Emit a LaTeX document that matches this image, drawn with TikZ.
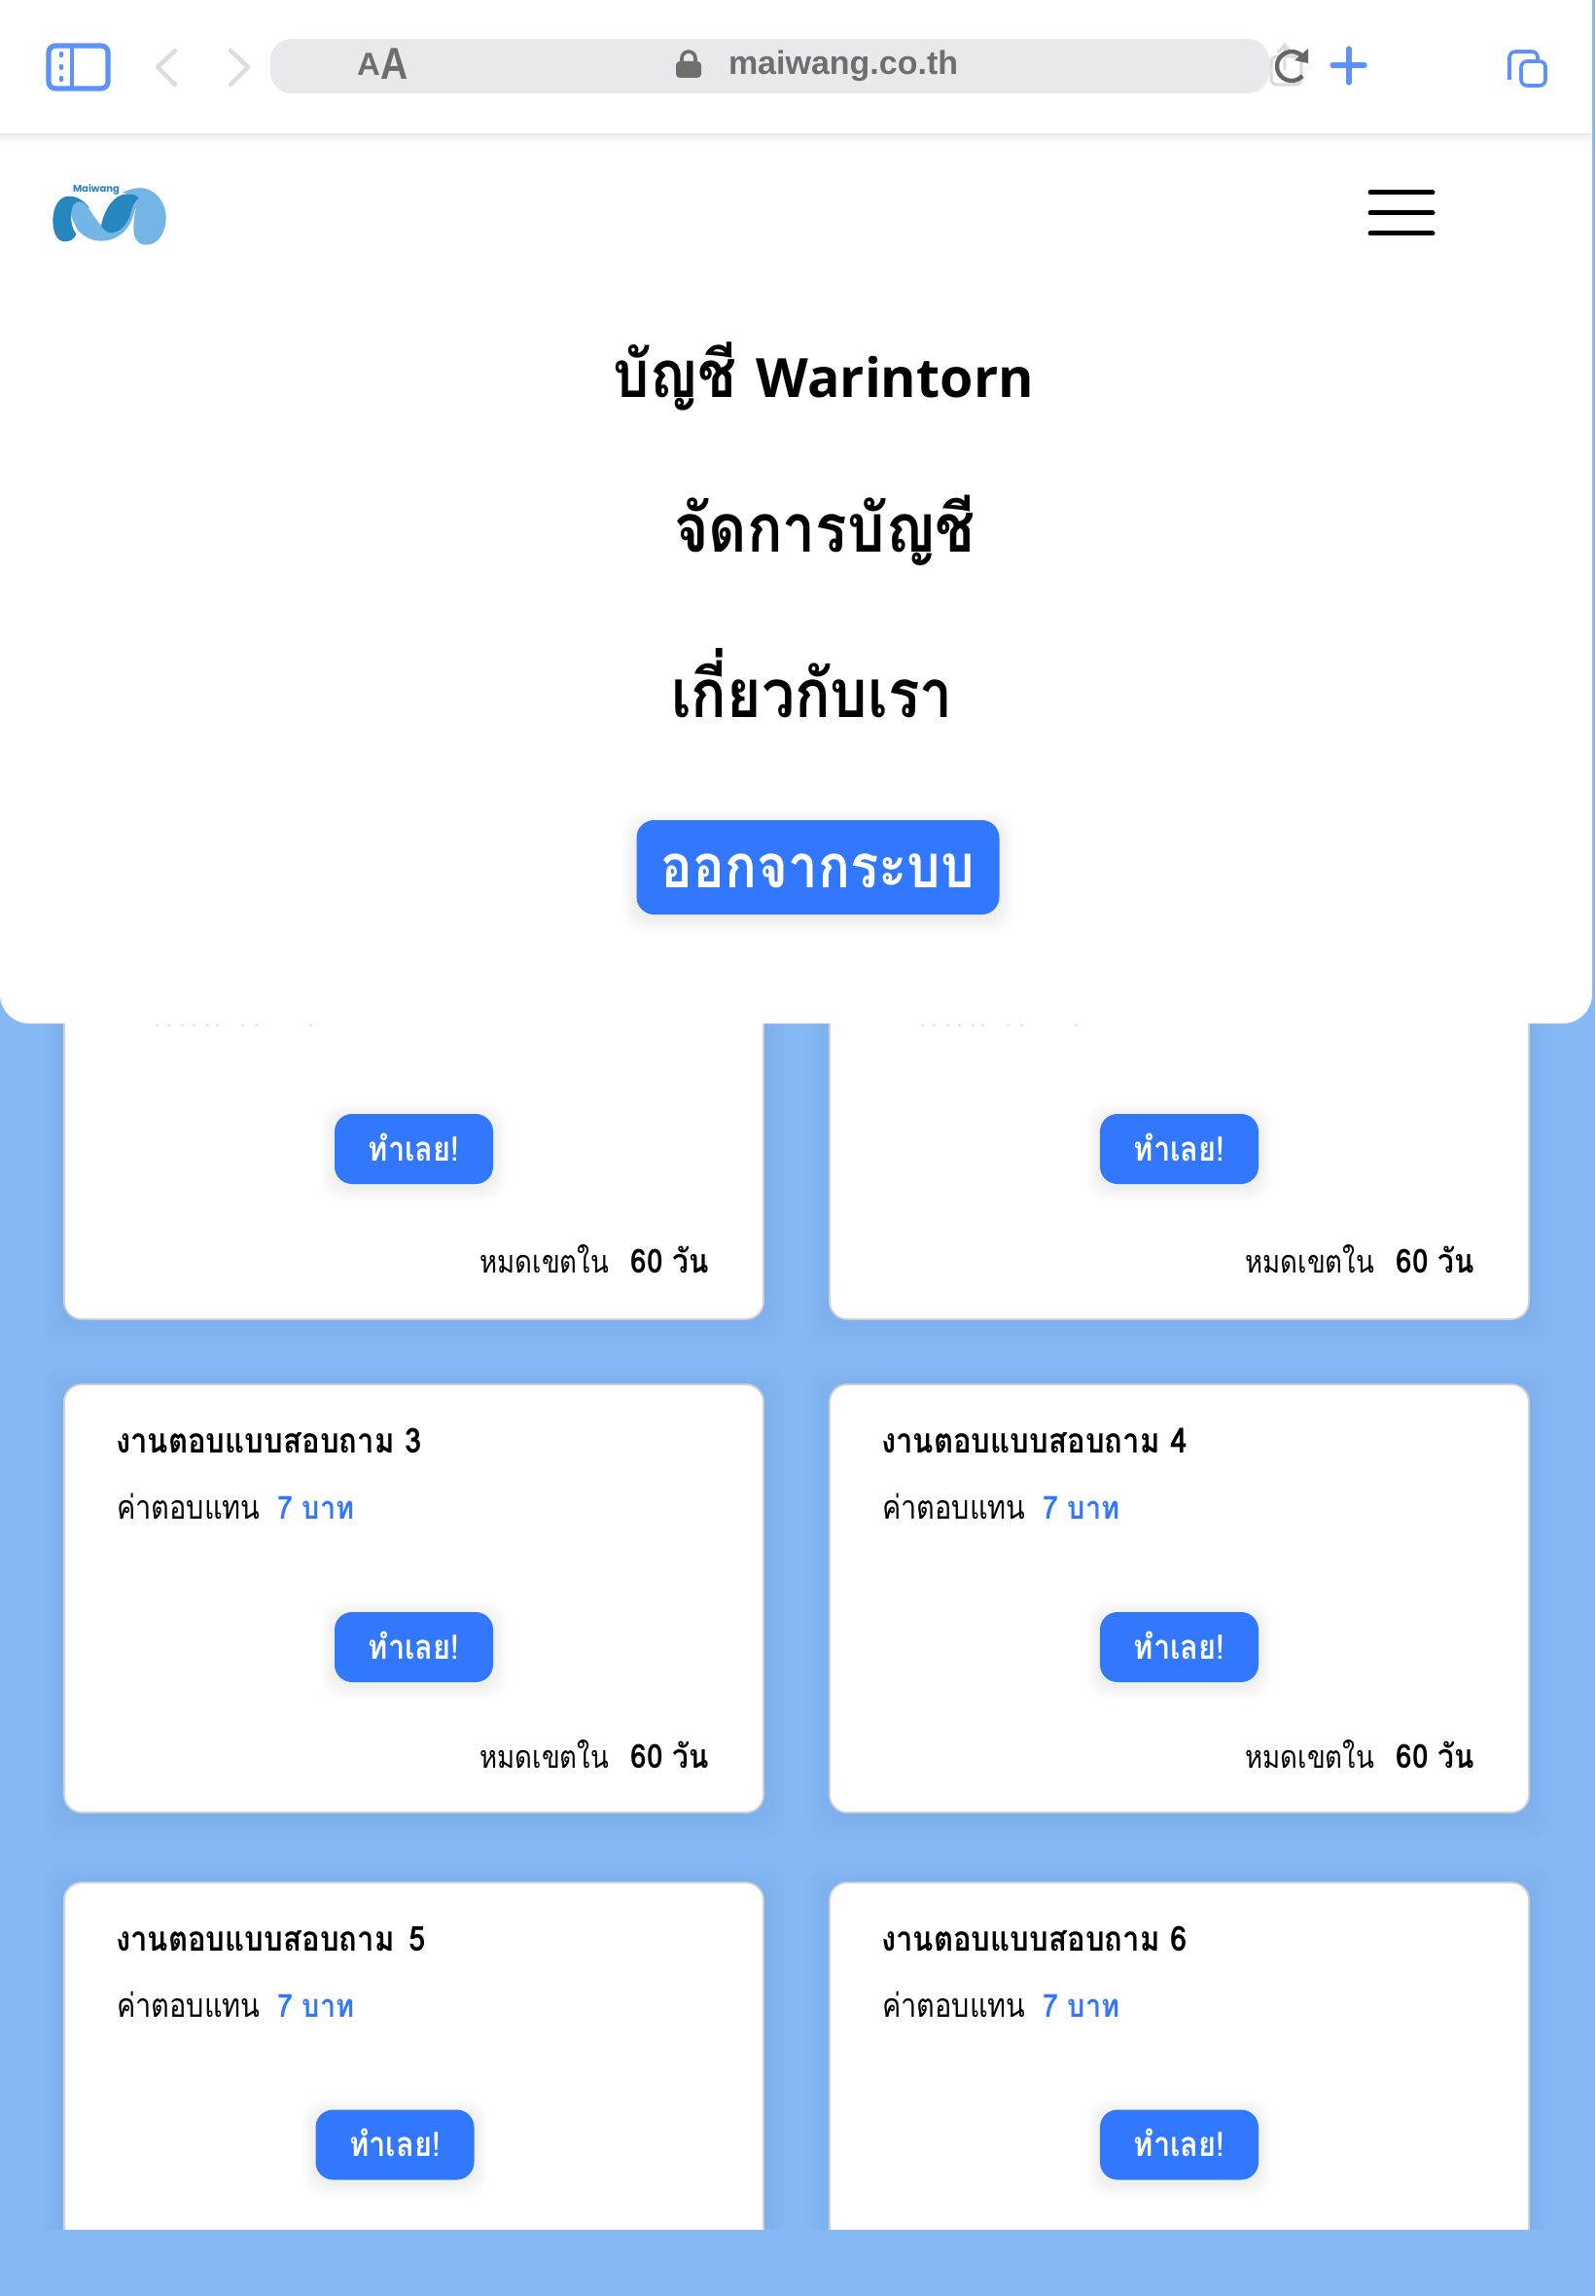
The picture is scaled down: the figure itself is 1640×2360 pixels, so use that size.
\documentclass[tikz,border=0pt]{standalone}
\usepackage{fontspec}
\setmainfont{Open Sans}
\newfontfamily\tfont[Script=Thai,FakeStretch=0.88]{Loma}
\newfontfamily\tfontr[Script=Thai,FakeStretch=0.85]{Loma}
\newfontfamily\lsans{Liberation Sans}
\newfontfamily\lsansn[FakeStretch=0.85]{Liberation Sans}
\newfontfamily\logofont{Poppins}
\definecolor{pagebg}{HTML}{85B8F5}
\definecolor{btn}{HTML}{3178FF}
\definecolor{urlbar}{HTML}{E8E9ED}
\definecolor{safari}{HTML}{5B93FA}
\definecolor{greytxt}{HTML}{6E6E6E}
\definecolor{chev}{HTML}{DCDCDC}
\definecolor{logod}{HTML}{2587BD}
\definecolor{logol}{HTML}{72B5E6}
\tikzset{
  txt/.style={inner sep=0pt,outer sep=0pt,anchor=base west},
  txtr/.style={inner sep=0pt,outer sep=0pt,anchor=base east},
  txtc/.style={inner sep=0pt,outer sep=0pt,anchor=base},
  cardbox/.style={fill=white,draw=black!18,line width=0.9pt,rounded corners=9pt},
  btnbox/.style={fill=btn,rounded corners=9pt},
  saf/.style={draw=safari,line cap=round,line join=round},
  chevron/.style={draw=chev,line width=2.2pt,line cap=round,line join=round},
}
% soft shadow: stacked translucent rounded rectangles
\newcommand\softshadow[7]{% x1 y1 x2 y2 spread opacity colour
  \foreach \k in {1,...,8}{
    \fill[#7,opacity=#6,rounded corners=10pt]
      ({#1-#5*\k/8},{#2-#5*\k/8}) rectangle ({#3+#5*\k/8},{#4+#5*\k/8});
  }
}
\newcommand\surveybtn[4]{% id, cx, cy, unused
  \softshadow{#2-81.5}{#3-33}{#2+81.5}{#3+39}{14}{0.007}{black}
  \node[btnbox,minimum width=81.5pt,minimum height=36pt,inner sep=0pt] (btn#1) at (#2,#3) {};
  \node[txtc,text=white,font=\tfont\bfseries\fontsize{17.5}{18}\selectfont] (btntext#1) at (#2,#3+12) {ทำเลย!};
}
\newcommand\surveycard[4]{% id, x, ytop, title
  \softshadow{#2}{#3+4}{#2+719}{#3+444}{24}{0.005}{black}
  \draw[cardbox] (#2,#3) rectangle (#2+719,#3+440);
}
\newcommand\cardtexts[4]{% id, x, ytop, title suffix
  \node[txt,font=\tfont\bfseries\fontsize{17.7}{18}\selectfont] (title#1) at (#2+53,#3+70) {งานตอบแบบสอบถาม#4};
  \node[txt,font=\tfontr\fontsize{17}{17}\selectfont] (pay#1) at (#2+54,#3+138) {ค่าตอบแทน};
  \node[txt,text=btn,font=\tfont\bfseries\fontsize{16.4}{17}\selectfont] (amount#1) at (#2+219,#3+138) {7 บาท};
}
\newcommand\cardfoot[3]{% id, x, ytop
  \node[txtr,font=\tfontr\fontsize{16.2}{17}\selectfont] (exp#1) at (#2+560,#3+392) {หมดเขตใน};
  \node[txtr,font=\tfont\bfseries\fontsize{17}{17}\selectfont] (days#1) at (#2+663,#3+392) {60 วัน};
}
\begin{document}
\begin{tikzpicture}[x=0.5pt,y=-0.5pt]
\useasboundingbox (0,0) rectangle (1640,2360);
\fill[pagebg] (0,0) rectangle (1640,2360);
% cards
\surveycard{a}{66}{916}{}
\surveycard{b}{853}{916}{}
\surveycard{c}{66}{1423}{}
\surveycard{d}{853}{1423}{}
\surveycard{e}{66}{1935}{}
\surveycard{f}{853}{1935}{}
% bottom strip hides the cut off cards
\fill[pagebg] (0,2292) rectangle (1640,2360);
% first row remnants under the panel
\foreach \dx in {0,787}{
  \foreach \px in {160,172,186,198,212,222,248,262,318}{
    \fill[black!10] (\px+\dx,1053) rectangle +(2.5,2);
  }
}
% buttons
\surveybtn{a}{425.5}{1181}{}
\surveybtn{b}{1212.5}{1181}{}
\surveybtn{c}{425.5}{1693}{}
\surveybtn{d}{1212.5}{1693}{}
\surveybtn{e}{406}{2204.5}{}
\surveybtn{f}{1212.5}{2204.5}{}
% card texts
\cardfoot{a}{66}{916}
\cardfoot{b}{853}{916}
\cardfoot{c}{66}{1425}
\cardfoot{d}{853}{1425}
\cardtexts{c}{66}{1423}{ 3}
\cardtexts{d}{853}{1423}{ 4}
\cardtexts{e}{66}{1935}{\hspace{2pt} 5}
\cardtexts{f}{853}{1935}{ 6}
% menu panel
\fill[white,rounded corners=15pt] (0,100) rectangle (1637,1052);
\fill[white] (0,130) rectangle (1637,1000);
% top bar with soft lower edge
\foreach \k in {1,...,6}{
  \fill[black,opacity=0.012] (0,137) rectangle (1637,137+\k*1.6);
}
\fill[white] (0,0) rectangle (1637,137);
% sidebar icon
\draw[safari,line width=2.6pt,fill=white,rounded corners=3.5pt] (50,47) rectangle (111,91);
\draw[safari,line width=2pt] (73.5,47) -- (73.5,91);
\foreach \dy in {56,69,81}{\fill[safari] (63,\dy) ellipse (2.4 and 3.2);}
% chevrons
\draw[chevron] (180,52) -- (162,69) -- (180,87);
\draw[chevron] (237,52) -- (255,69) -- (237,87);
% address bar
\fill[urlbar,rounded corners=11pt] (278,40) rectangle (1305,96);
\node[txt,text=greytxt,font=\lsans\bfseries\fontsize{16.5}{17}\selectfont] (aasmall) at (367,78) {A};
\node[txt,text=greytxt,font=\lsansn\bfseries\fontsize{23}{23}\selectfont] (aalarge) at (391,82) {A};
\fill[greytxt,rounded corners=2pt] (695,63) rectangle (721,80);
\draw[greytxt,line width=1.8pt] (701,65) -- (701,60) arc[start angle=180,end angle=360,radius=7] -- (715,65);
\node[txt,text=greytxt,font=\lsans\bfseries\fontsize{17}{17}\selectfont] (url) at (749,77) {maiwang.co.th};
% share icon under the reload icon
\draw[black!14,line width=1.6pt,rounded corners=3pt] (1307,58) rectangle (1338,87);
\draw[black!14,line width=1.4pt] (1321,72) -- (1321,46) (1314,54) -- (1321,46) -- (1328,54);
% reload icon
\draw[black!60,line width=2.2pt] (1339.5,58.4) arc[start angle=-40,end angle=-318,radius=15];
\fill[black!60] (1345,50) -- (1345,65) -- (1331,62) -- cycle;
% plus
\draw[saf,line width=2.6pt] (1370,67) -- (1403,67) (1387,50) -- (1387,85);
% tabs
\draw[safari,line width=1.8pt,rounded corners=3pt] (1552,82) -- (1552,53) -- (1581,53) -- (1581,63);
\draw[safari,line width=1.8pt,fill=white,rounded corners=3pt] (1564,63) rectangle (1589,88);
% hamburger
\foreach \hy in {198,219,240}{
  \draw[black,line width=2.5pt,line cap=round] (1409,\hy) -- (1473,\hy);
}
% logo
\begin{scope}[shift={(30,170)},x=0.1667pt,y=-0.1667pt]
  \fill[logod] (110,235) .. controls (85,235) and (73,205) .. (73,170)
     .. controls (73,125) and (95,95) .. (122,95)
     .. controls (145,95) and (165,105) .. (185,130)
     -- (130,150) .. controls (128,175) and (132,195) .. (145,212)
     .. controls (138,228) and (125,235) .. (110,235) -- cycle;
  \fill[logol] (130,150) .. controls (130,125) and (140,112) .. (155,112)
     .. controls (180,112) and (200,165) .. (222,185)
     .. controls (240,205) and (270,205) .. (290,175)
     .. controls (308,150) and (315,125) .. (338,102)
     .. controls (330,92) and (305,85) .. (285,85)
     .. controls (310,72) and (340,66) .. (360,72)
     .. controls (400,82) and (422,125) .. (422,160)
     .. controls (422,210) and (395,245) .. (362,245)
     .. controls (335,245) and (322,225) .. (322,195)
     .. controls (322,165) and (328,130) .. (338,102)
     -- (322,150) .. controls (312,190) and (285,225) .. (235,232)
     .. controls (195,238) and (155,215) .. (142,185)
     .. controls (135,170) and (130,160) .. (130,150) -- cycle;
  \fill[logod] (222,185) .. controls (232,135) and (262,88) .. (302,88)
     .. controls (320,88) and (332,92) .. (338,102)
     .. controls (325,112) and (318,125) .. (312,150)
     .. controls (305,180) and (280,208) .. (250,208)
     .. controls (238,205) and (228,198) .. (222,185) -- cycle;
\end{scope}
\node[txtc,text=logod,font=\logofont\bfseries\fontsize{5}{6}\selectfont] (logotext) at (99,198) {Maiwang};
% menu entries
\node[txt,font=\tfont\bfseries\fontsize{33.5}{34}\selectfont] (m1) at (630,408) {บัญชี {\rmfamily\bfseries\fontsize{27.8}{28}\selectfont Warintorn}};
\node[txtc,font=\tfont\bfseries\fontsize{34.5}{35}\selectfont] (m2) at (848,567) {จัดการบัญชี};
\node[txtc,font=\tfont\bfseries\fontsize{34.5}{35}\selectfont] (m3) at (835,737) {เกี่ยวกับเรา};
\softshadow{654}{848}{1028}{945}{14}{0.007}{black}
\node[btnbox,minimum width=186.5pt,minimum height=48.5pt,inner sep=0pt] (logout) at (841,891.5) {};
\node[txtc,text=white,font=\tfont\bfseries\fontsize{31}{32}\selectfont] (logouttext) at (841,912) {ออกจากระบบ};
\end{tikzpicture}
\end{document}
